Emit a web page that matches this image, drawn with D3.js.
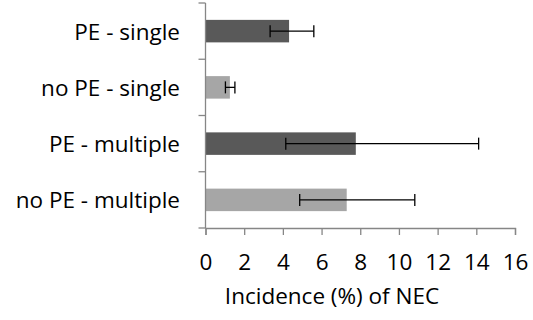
<!DOCTYPE html>
<html>
<head>
<meta charset="utf-8">
<script src="https://cdn.jsdelivr.net/npm/d3@7"></script>
<style>
  body { margin: 0; background: #fff; }
  svg text { font-family: "Open Sans", Lato, sans-serif; fill: #000; }
</style>
</head>
<body>
<svg id="chart" width="533" height="320"></svg>
<script>
const categories = ["PE - single", "no PE - single", "PE - multiple", "no PE - multiple"];
const values = [4.32, 1.26, 7.77, 7.3];
const errLow = [3.34, 1.03, 4.15, 4.87];
const errHigh = [5.6, 1.52, 14.12, 10.82];
const barColors = ["#595959", "#a6a6a6", "#595959", "#a6a6a6"];
const xTicks = [0, 2, 4, 6, 8, 10, 12, 14, 16];
const xTitle = "Incidence (%) of NEC";

const svg = d3.select("#chart");
const plotLeft = 205.5, plotRight = 515, plotTop = 3, plotBottom = 228;
const fontSize = 22.5;

const x = d3.scaleLinear().domain([0, 16]).range([plotLeft, plotRight]);
const y = d3.scaleBand().domain(categories).range([plotTop, plotBottom]).paddingInner(0.6).paddingOuter(0.3);

// bars
svg.selectAll("rect.bar")
  .data(categories)
  .join("rect")
  .attr("class", "bar")
  .attr("x", x(0))
  .attr("y", (d) => y(d))
  .attr("width", (d, i) => x(values[i]) - x(0))
  .attr("height", y.bandwidth())
  .attr("fill", (d, i) => barColors[i]);

// error bars
const mid = (d) => y(d) + y.bandwidth() / 2;
const err = svg.selectAll("g.err").data(categories).join("g").attr("class", "err")
  .attr("stroke", "#000").attr("stroke-width", 1.3);
err.append("line")
  .attr("x1", (d, i) => x(errLow[i])).attr("x2", (d, i) => x(errHigh[i]))
  .attr("y1", mid).attr("y2", mid);
err.append("line")
  .attr("x1", (d, i) => x(errLow[i])).attr("x2", (d, i) => x(errLow[i]))
  .attr("y1", (d) => mid(d) - 6).attr("y2", (d) => mid(d) + 6);
err.append("line")
  .attr("x1", (d, i) => x(errHigh[i])).attr("x2", (d, i) => x(errHigh[i]))
  .attr("y1", (d) => mid(d) - 6).attr("y2", (d) => mid(d) + 6);

// x axis
const xAxis = svg.append("g")
  .attr("transform", `translate(0,${plotBottom})`)
  .call(d3.axisBottom(x).tickValues(xTicks).tickSize(7).tickPadding(19));
xAxis.select(".domain").attr("stroke", "#868686").attr("stroke-width", 1.3);
xAxis.selectAll(".tick line").attr("stroke", "#868686").attr("stroke-width", 1.3);
xAxis.selectAll(".tick text").attr("font-size", fontSize).attr("font-family", "'Open Sans', sans-serif").attr("fill", "#000");

// y axis line with ticks at band boundaries
const step = y.step();
const yEdges = d3.range(categories.length + 1).map((i) => plotTop + i * step);
svg.append("line")
  .attr("x1", plotLeft).attr("x2", plotLeft).attr("y1", plotTop).attr("y2", plotBottom)
  .attr("stroke", "#868686").attr("stroke-width", 1.3);
svg.selectAll("line.ytick").data(yEdges).join("line").attr("class", "ytick")
  .attr("x1", plotLeft - 7).attr("x2", plotLeft).attr("y1", (d) => d).attr("y2", (d) => d)
  .attr("stroke", "#868686").attr("stroke-width", 1.3);

// category labels
svg.selectAll("text.cat").data(categories).join("text").attr("class", "cat")
  .attr("x", 180)
  .attr("y", (d) => mid(d) + 8.5)
  .attr("text-anchor", "end")
  .attr("font-size", fontSize)
  .text((d) => d);

// axis title
svg.append("text")
  .attr("x", 332).attr("y", 303.5)
  .attr("text-anchor", "middle").attr("font-size", fontSize)
  .text(xTitle);
</script>
</body>
</html>
